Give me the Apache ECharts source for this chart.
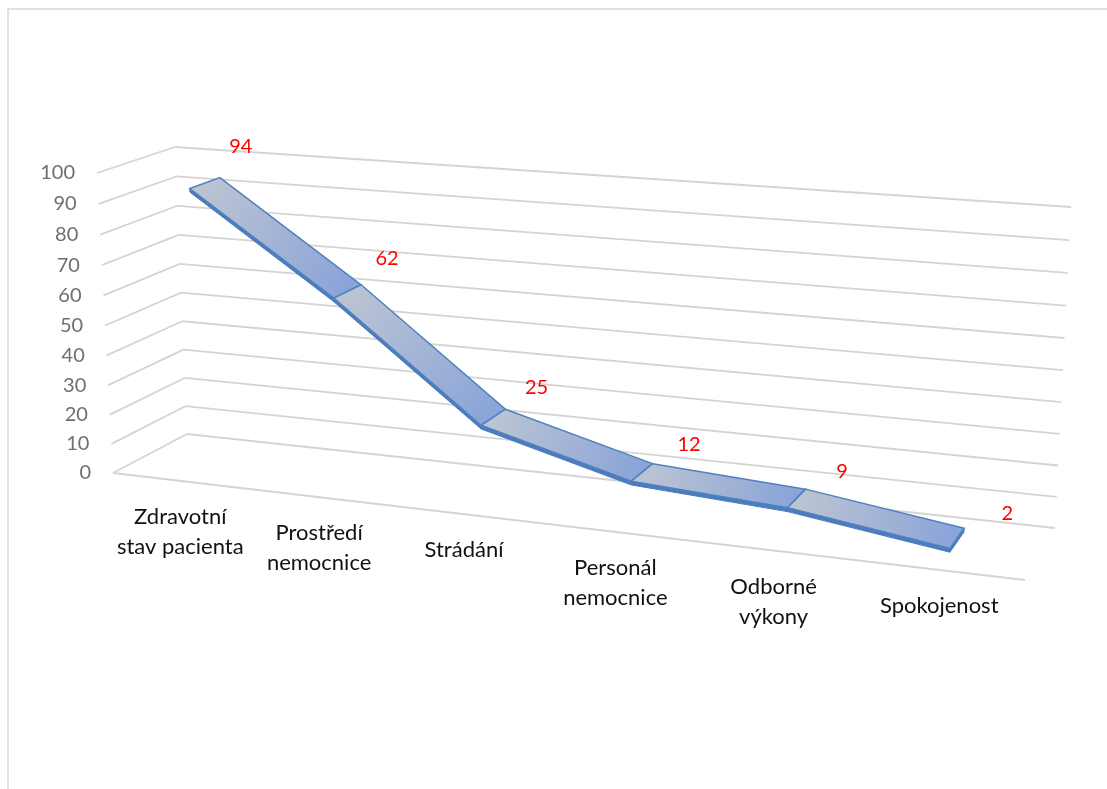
<!DOCTYPE html>
<html>
<head>
<meta charset="utf-8">
<script src="https://cdn.jsdelivr.net/npm/echarts@6/dist/echarts.min.js"></script>
<style>
  html, body { margin: 0; background: #fff; }
  #main { width: 1107px; height: 789px; }
</style>
</head>
<body>
<div id="main"></div>
<script>
var categories = ['Zdravotní\nstav pacienta', 'Prostředí\nnemocnice', 'Strádání', 'Personál\nnemocnice', 'Odborné\nvýkony', 'Spokojenost'];
var values = [94, 62, 25, 12, 9, 2];
var yTicks = [0, 10, 20, 30, 40, 50, 60, 70, 80, 90, 100];

// 3d box seen in perspective: corners of back wall and front plane
// order: bottom-left, bottom-right, top-right, top-left
var backWall = [[187, 434], [1055, 528], [1071, 207], [175, 147]];
var frontWall = [[113, 473], [1025, 580], [1042, 240], [97, 173]];
var ribbonDepth = [0.3, 0.7]; // 0 = back wall, 1 = front edge
var ribbonThick = 1.2;        // thickness of the ribbon, value units
var FONT = 'Lato, "Open Sans", sans-serif';

function homography(q) {
  var x0 = q[0][0], y0 = q[0][1], x1 = q[1][0], y1 = q[1][1];
  var x2 = q[2][0], y2 = q[2][1], x3 = q[3][0], y3 = q[3][1];
  var dx1 = x1 - x2, dx2 = x3 - x2, dx3 = x0 - x1 + x2 - x3;
  var dy1 = y1 - y2, dy2 = y3 - y2, dy3 = y0 - y1 + y2 - y3;
  var den = dx1 * dy2 - dx2 * dy1;
  var g = (dx3 * dy2 - dx2 * dy3) / den;
  var h = (dx1 * dy3 - dx3 * dy1) / den;
  var a = x1 - x0 + g * x1, b = x3 - x0 + h * x3, c = x0;
  var d = y1 - y0 + g * y1, e = y3 - y0 + h * y3, f = y0;
  return function (u, v) {
    var w = g * u + h * v + 1;
    return [(a * u + b * v + c) / w, (d * u + e * v + f) / w];
  };
}
var backH = homography(backWall);
var frontH = homography(frontWall);

function project(u, v, t) {
  var b = backH(u, v), f = frontH(u, v);
  return [b[0] + (f[0] - b[0]) * t, b[1] + (f[1] - b[1]) * t];
}

// point of the hidden grid -> normalised (u, v)
function toUV(params, api, x, y) {
  var p = api.coord([x, y]);
  var cs = params.coordSys;
  return [(p[0] - cs.x) / cs.width, (cs.y + cs.height - p[1]) / cs.height];
}

var chart = echarts.init(document.getElementById('main'));

var segData = [];
for (var i = 0; i < values.length - 1; i++) {
  segData.push([i, values[i], i + 1, values[i + 1]]);
}

var option = {
  animation: false,
  tooltip: { show: false },
  graphic: [{
    type: 'rect',
    silent: true,
    shape: { x: 8, y: 9, width: 1300, height: 900 },
    style: { fill: 'none', stroke: '#d9d9d9', lineWidth: 1.5 }
  }],
  grid: { left: 0, top: 0, width: 600, height: 600, show: false },
  xAxis: { type: 'category', data: categories, show: false, boundaryGap: true },
  yAxis: { type: 'value', min: 0, max: 100, interval: 10, show: false },
  series: [
    {
      // walls: gridlines + value labels
      type: 'custom',
      silent: true,
      data: yTicks.map(function (v) { return [0, v]; }),
      encode: { x: 0, y: 1 },
      renderItem: function (params, api) {
        var v = toUV(params, api, 0, api.value(1))[1];
        var lineStyle = { stroke: '#d4d4d4', lineWidth: 1.8 };
        var a = project(0, v, 0), b = project(1, v, 0), f = project(0, v, 1);
        var children = [
          { type: 'line', shape: { x1: a[0], y1: a[1], x2: b[0], y2: b[1] }, style: lineStyle },
          { type: 'line', shape: { x1: f[0], y1: f[1], x2: a[0], y2: a[1] }, style: lineStyle },
          {
            type: 'text', x: f[0] - 22, y: f[1],
            style: { text: String(api.value(1)), fill: '#6f6f6f', fontFamily: FONT, fontSize: 20, align: 'right', verticalAlign: 'middle' }
          }
        ];
        if (api.value(1) === 0) {
          var r = project(1, v, 1);
          children.push({ type: 'line', shape: { x1: f[0], y1: f[1], x2: r[0], y2: r[1] }, style: lineStyle });
        }
        return { type: 'group', children: children };
      },
      z: 1
    },
    {
      // category labels along the floor front edge
      type: 'custom',
      silent: true,
      data: categories.map(function (c, i) { return [i, 0]; }),
      encode: { x: 0, y: 1 },
      renderItem: function (params, api) {
        var uv = toUV(params, api, api.value(0), 0);
        var p = project(uv[0], 0, 1);
        return {
          type: 'text', x: p[0], y: p[1] + 21,
          style: { text: categories[params.dataIndex], fill: '#111', fontFamily: FONT, fontSize: 22, lineHeight: 30, align: 'center', verticalAlign: 'top' }
        };
      },
      z: 2
    },
    {
      // 3d ribbon, one piece per segment
      type: 'custom',
      silent: true,
      data: segData,
      encode: { x: [0, 2], y: [1, 3] },
      renderItem: function (params, api) {
        var a = toUV(params, api, api.value(0), api.value(1));
        var b = toUV(params, api, api.value(2), api.value(3));
        var a2 = toUV(params, api, api.value(0), api.value(1) - ribbonThick);
        var b2 = toUV(params, api, api.value(2), api.value(3) - ribbonThick);
        var t0 = ribbonDepth[0], t1 = ribbonDepth[1];
        var aBack = project(a[0], a[1], t0), aFront = project(a[0], a[1], t1);
        var bBack = project(b[0], b[1], t0), bFront = project(b[0], b[1], t1);
        var aLow = project(a2[0], a2[1], t1), bLow = project(b2[0], b2[1], t1);
        var grad = {
          type: 'linear', global: true,
          x: (aBack[0] + aFront[0]) / 2, y: (aBack[1] + aFront[1]) / 2,
          x2: (bBack[0] + bFront[0]) / 2, y2: (bBack[1] + bFront[1]) / 2,
          colorStops: [{ offset: 0, color: '#bcc4d2' }, { offset: 1, color: '#89a4d9' }]
        };
        var children = [
          { type: 'polygon', shape: { points: [aFront, bFront, bLow, aLow] }, style: { fill: '#4a7cbf', stroke: '#4a7cbf', lineWidth: 1 } },
          { type: 'polygon', shape: { points: [aBack, bBack, bFront, aFront] }, style: { fill: grad, stroke: '#4f81bd', lineWidth: 1.5 } }
        ];
        if (params.dataIndex === segData.length - 1) {
          var bLowBack = project(b2[0], b2[1], t0);
          children.push({ type: 'polygon', shape: { points: [bBack, bFront, bLow, bLowBack] }, style: { fill: '#4a7cbf', stroke: '#4a7cbf', lineWidth: 1 } });
        }
        return { type: 'group', children: children };
      },
      z: 3
    },
    {
      // red data labels
      type: 'custom',
      silent: true,
      data: values.map(function (v, i) { return [i, v]; }),
      encode: { x: 0, y: 1 },
      renderItem: function (params, api) {
        var uv = toUV(params, api, api.value(0), api.value(1));
        var p = project(uv[0], uv[1], 1);
        return {
          type: 'text', x: p[0] + 62, y: p[1] - 50,
          style: { text: String(api.value(1)), fill: '#ff0000', fontFamily: FONT, fontSize: 20, align: 'left', verticalAlign: 'middle' }
        };
      },
      z: 4
    }
  ]
};

chart.setOption(option);
</script>
</body>
</html>
